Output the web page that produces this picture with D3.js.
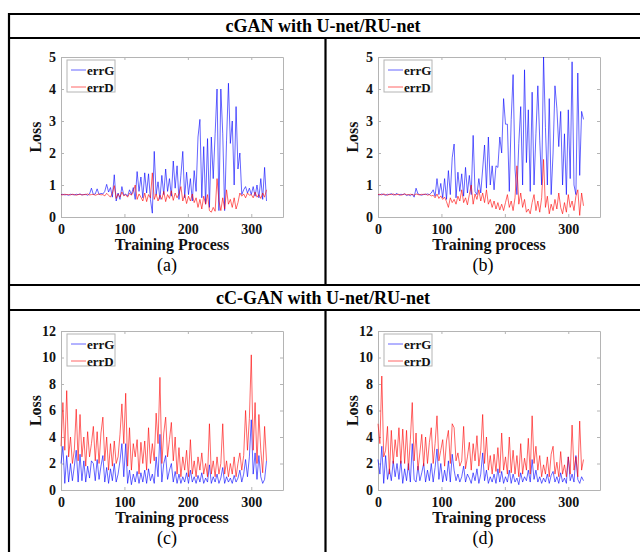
<!DOCTYPE html>
<html lang="en">
<head>
<meta charset="UTF-8">
<title>GAN loss curves</title>
<script src="https://cdn.jsdelivr.net/npm/d3@7"></script>
<style>
  body { margin: 0; background: #fff; }
  text { font-family: "Liberation Serif", "Times New Roman", serif; }
</style>
</head>
<body>
<svg id="canvas" width="640" height="552"></svg>
<script>
// losses sampled every 3 training steps (0, 3, 6, ... 324)
const step = 3;

const aG = [0.70,0.71,0.69,0.70,0.68,0.71,0.70,0.69,0.71,0.70,
  0.72,0.69,0.70,0.71,0.68,0.72,0.90,0.70,0.72,0.88,
  0.70,0.74,0.72,0.80,1.02,0.78,0.92,0.62,1.32,0.50,
  0.75,0.55,0.95,0.68,0.72,0.65,0.85,0.70,0.92,0.55,
  1.42,0.80,1.25,0.60,1.38,0.75,1.35,0.55,0.12,2.05,
  0.70,1.10,0.55,1.30,0.70,1.50,0.80,1.20,0.65,1.75,
  0.90,1.60,0.55,1.30,2.05,0.60,1.40,0.70,1.20,0.50,
  1.45,0.80,2.50,3.05,0.60,2.20,0.40,2.45,0.30,2.50,
  1.20,2.60,4.00,0.20,4.00,2.60,0.20,2.40,4.18,2.30,
  3.00,1.00,3.45,1.50,2.00,0.70,0.85,0.95,0.75,0.90,
  0.70,0.95,0.65,1.00,0.60,1.20,0.55,1.55,0.50];
const aD = [0.70,0.69,0.71,0.70,0.70,0.69,0.71,0.70,0.68,0.70,
  0.71,0.69,0.70,0.70,0.72,0.69,0.70,0.71,0.68,0.70,
  0.72,0.69,0.70,0.66,0.74,0.68,0.62,0.75,0.98,0.58,
  0.72,0.62,0.78,0.66,0.70,0.62,0.74,0.68,0.80,1.00,
  0.55,0.72,0.62,0.50,0.75,0.48,0.70,0.60,1.38,0.55,
  0.72,0.50,0.68,0.55,0.80,0.48,0.70,0.58,0.82,0.52,
  0.75,0.60,0.72,0.95,0.50,0.70,0.42,0.65,0.50,0.72,
  0.45,0.60,0.30,0.55,0.25,0.65,0.40,0.70,0.20,0.15,
  0.30,0.18,1.20,0.50,0.20,0.60,0.25,0.85,0.40,0.55,
  0.30,0.60,0.25,0.45,0.75,0.65,0.72,0.60,0.75,0.68,
  0.70,0.60,0.78,0.62,0.70,0.58,0.75,0.62,0.85];

const bG = [0.70,0.69,0.72,0.70,0.68,0.71,0.70,0.73,0.69,0.70,
  0.74,0.68,0.71,0.70,0.72,0.67,0.70,0.66,0.72,0.62,
  0.90,0.72,0.70,0.68,0.71,0.70,0.72,0.70,0.75,0.85,
  0.65,1.20,0.70,1.05,0.60,1.20,0.55,1.45,0.70,1.85,
  2.28,0.60,1.40,0.80,1.35,0.65,1.55,0.75,1.30,0.70,
  2.55,0.80,0.70,1.20,0.75,1.50,2.25,0.90,2.50,1.00,
  1.60,0.85,1.60,1.55,2.50,2.00,3.70,2.90,2.90,0.80,
  3.05,4.45,1.50,0.70,2.30,3.45,1.00,4.60,1.70,3.35,
  0.80,3.90,1.00,2.60,4.10,2.40,1.00,5.00,2.80,1.00,
  3.70,0.70,2.00,4.10,3.40,2.20,3.30,1.00,2.60,0.70,
  3.35,1.20,4.85,1.00,0.70,4.50,1.30,3.30,3.05];
const bD = [0.70,0.71,0.69,0.72,0.70,0.68,0.71,0.70,0.72,0.69,
  0.70,0.71,0.68,0.70,0.72,0.70,0.69,0.71,0.70,0.68,
  0.72,0.70,0.69,0.71,0.70,0.72,0.68,0.70,0.66,0.68,
  0.60,0.72,0.58,0.66,0.55,0.62,0.48,0.30,0.60,0.45,
  0.55,0.40,0.65,0.50,0.85,0.45,0.60,0.38,0.70,1.00,
  0.40,0.72,0.55,0.85,0.50,0.75,0.45,0.85,0.40,0.55,
  0.30,0.50,0.25,0.45,0.22,0.40,0.20,0.45,0.70,0.30,
  0.50,0.20,0.60,1.60,0.40,0.75,0.30,0.55,0.15,0.25,
  0.10,0.45,0.70,0.20,0.50,0.15,0.60,1.80,0.30,0.65,
  0.10,0.40,0.20,0.55,0.25,0.75,0.30,0.10,0.45,0.15,
  0.70,0.30,0.50,0.20,0.65,0.85,0.05,0.75,0.35];

const cG = [2.0,3.3,0.5,2.6,0.6,2.0,0.7,1.8,3.0,0.6,
  2.7,0.7,2.2,0.6,1.8,0.9,2.2,2.0,0.7,2.3,
  0.8,1.8,2.6,0.6,1.7,0.5,1.6,0.7,2.0,0.6,
  1.2,2.2,3.5,1.0,3.5,0.5,1.5,0.4,1.2,0.6,
  1.4,0.5,1.3,0.6,1.5,0.5,1.6,0.7,1.2,0.5,
  2.5,1.0,4.2,0.6,2.0,2.6,0.8,1.5,2.0,0.6,
  1.4,0.5,1.2,0.5,1.0,0.6,1.3,0.5,1.5,0.6,
  1.0,0.5,1.1,0.6,1.3,0.5,0.9,0.6,1.9,0.5,
  1.0,0.6,1.2,0.5,0.9,1.7,0.5,1.0,0.6,0.9,
  0.5,1.1,0.6,0.9,1.5,0.6,1.2,2.3,1.0,2.5,
  5.3,1.2,2.8,0.8,2.6,1.0,0.5,0.8,2.2];
const cD = [3.3,6.6,3.0,7.5,2.5,4.0,2.0,3.0,6.1,2.2,
  5.7,2.5,4.0,1.8,4.4,2.5,3.5,4.8,2.2,4.4,
  2.0,4.3,5.5,2.2,4.0,1.5,3.5,1.8,3.7,2.0,
  2.5,4.2,6.5,3.5,7.3,1.8,4.7,1.5,3.5,2.5,
  3.8,1.2,3.6,2.0,3.7,1.5,4.7,2.0,3.5,2.2,
  5.8,3.5,8.5,2.0,4.3,5.5,2.5,3.8,5.1,2.2,
  4.0,1.2,3.2,1.0,2.5,1.5,3.0,1.0,3.8,1.2,
  2.2,1.0,2.5,1.5,2.8,1.2,2.0,1.0,5.0,1.2,
  2.2,1.0,2.5,1.2,2.0,5.0,1.2,2.2,1.0,2.0,
  1.2,2.5,1.0,2.0,2.8,1.5,2.6,6.0,3.0,5.4,
  10.2,3.0,6.6,2.0,5.7,3.0,1.3,4.8,2.2];

const dG = [2.3,1.2,3.3,0.5,2.6,0.8,1.6,0.7,2.2,1.0,
  2.0,0.8,2.2,0.5,1.6,0.7,2.0,0.6,3.5,0.8,
  0.6,1.8,0.7,1.3,2.0,0.6,1.5,0.7,2.0,0.6,
  1.7,3.1,0.8,2.0,0.6,1.5,0.7,2.2,0.6,2.7,
  1.5,0.7,1.2,0.6,1.0,1.8,0.6,1.2,0.9,0.5,
  1.3,0.7,1.6,0.5,1.2,2.8,0.7,1.5,0.5,1.0,
  0.6,1.2,0.5,1.6,0.6,1.4,0.5,1.0,0.6,1.5,
  0.5,1.2,0.6,0.9,0.4,1.3,0.6,1.0,0.7,1.5,
  0.6,2.3,0.8,1.5,0.6,1.0,0.5,0.9,0.6,1.2,
  0.5,1.1,1.4,0.6,1.0,0.5,1.3,0.6,0.9,0.5,
  2.5,0.7,1.2,0.6,2.6,0.8,0.5,1.0,0.7];
const dD = [5.0,3.5,8.6,2.5,3.0,4.8,1.2,4.5,2.0,3.8,
  2.5,4.7,2.0,4.6,2.0,4.5,1.5,3.8,6.6,2.2,
  4.3,1.5,2.8,4.2,1.8,4.0,2.0,3.6,4.7,2.0,
  3.5,5.6,2.2,3.0,3.8,1.8,3.7,4.5,2.0,5.0,
  4.7,2.2,2.8,1.8,2.2,4.8,1.6,2.5,3.6,1.5,
  3.5,2.2,4.1,1.8,3.0,5.7,2.0,4.0,1.5,2.6,
  1.2,2.7,1.4,3.2,1.3,4.3,1.5,2.5,1.2,4.0,
  1.3,3.0,1.2,2.6,1.0,3.5,1.2,2.4,1.5,3.9,
  1.2,5.6,2.0,3.3,1.5,2.6,1.0,1.9,1.2,2.5,
  1.0,2.7,3.3,1.2,2.1,1.0,2.9,1.2,1.9,1.0,
  2.5,1.2,4.9,1.5,2.5,1.0,5.2,1.5,2.3];

const xTicks = [0, 100, 200, 300];
const yTicksTop = [0, 1, 2, 3, 4, 5];
const yTicksBottom = [0, 2, 4, 6, 8, 10, 12];
const seriesNames = ["errG", "errD"];
const headers = ["cGAN with U-net/RU-net", "cC-GAN with U-net/RU-net"];

const colors = { errG: "#0000ff", errD: "#ff0000" };

const panels = [
  { G: aG, D: aD, yMax: 5, yTicks: yTicksTop, xLabel: "Training Process", tag: "(a)", left: 61, top: 57, h: 160, cell: 167 },
  { G: bG, D: bD, yMax: 5, yTicks: yTicksTop, xLabel: "Training process", tag: "(b)", left: 378, top: 57, h: 160, cell: 483 },
  { G: cG, D: cD, yMax: 12, yTicks: yTicksBottom, xLabel: "Training process", tag: "(c)", left: 61, top: 331, h: 159, cell: 167 },
  { G: dG, D: dD, yMax: 12, yTicks: yTicksBottom, xLabel: "Training process", tag: "(d)", left: 378, top: 331, h: 159, cell: 483 }
];
const W = 222;

const svg = d3.select("#canvas");

// table frame
const frame = svg.append("g").attr("stroke", "#000").attr("stroke-width", 2.2);
[14, 38, 285, 310].forEach(y => {
  frame.append("line").attr("x1", 8).attr("x2", 640).attr("y1", y).attr("y2", y);
});
frame.append("line").attr("x1", 9).attr("x2", 9).attr("y1", 13).attr("y2", 552);
frame.append("line").attr("x1", 325.5).attr("x2", 325.5).attr("y1", 38).attr("y2", 285);
frame.append("line").attr("x1", 325.5).attr("x2", 325.5).attr("y1", 310).attr("y2", 552);

svg.selectAll("text.header")
  .data(headers)
  .join("text")
  .attr("class", "header")
  .attr("x", 323)
  .attr("y", (d, i) => i === 0 ? 32 : 304)
  .attr("text-anchor", "middle")
  .attr("font-size", 18)
  .attr("font-weight", "bold")
  .text(d => d);

function drawPanel(p) {
  const g = svg.append("g").attr("transform", `translate(${p.left},${p.top})`);
  const x = d3.scaleLinear().domain([0, 350]).range([0, W]);
  const y = d3.scaleLinear().domain([0, p.yMax]).range([p.h, 0]);
  const fmt = d3.format("d");

  const styleAxis = sel => {
    sel.selectAll(".domain").attr("stroke", "#b4b4b4");
    sel.selectAll(".tick line").attr("stroke", "#b4b4b4");
    sel.selectAll("text")
      .attr("font-family", "'Liberation Serif', serif")
      .attr("font-size", 14)
      .attr("font-weight", "bold")
      .attr("fill", "#111");
  };

  g.append("g").attr("transform", `translate(0,${p.h})`)
    .call(d3.axisBottom(x).tickValues(xTicks).tickFormat(fmt).tickSizeInner(-3).tickSizeOuter(0).tickPadding(7))
    .call(styleAxis);
  g.append("g")
    .call(d3.axisTop(x).tickValues(xTicks).tickSizeInner(-3).tickSizeOuter(0).tickFormat(""))
    .call(styleAxis);
  g.append("g")
    .call(d3.axisLeft(y).tickValues(p.yTicks).tickFormat(fmt).tickSizeInner(-3).tickSizeOuter(0).tickPadding(5))
    .call(styleAxis);
  g.append("g").attr("transform", `translate(${W},0)`)
    .call(d3.axisRight(y).tickValues(p.yTicks).tickSizeInner(-3).tickSizeOuter(0).tickFormat(""))
    .call(styleAxis);

  const line = d3.line().x((d, i) => x(i * step)).y(d => y(d));
  [["errG", p.G], ["errD", p.D]].forEach(([name, vals]) => {
    g.append("path")
      .datum(vals)
      .attr("fill", "none")
      .attr("stroke", colors[name])
      .attr("stroke-opacity", 0.6)
      .attr("stroke-width", 1)
      .attr("d", line);
  });

  // legend
  const lg = g.append("g").attr("transform", "translate(6,3)");
  lg.append("rect").attr("width", 48).attr("height", 32)
    .attr("fill", "#fff").attr("stroke", "#b4b4b4").attr("stroke-width", 1);
  seriesNames.forEach((name, i) => {
    const yy = 10 + i * 17;
    lg.append("line").attr("x1", 4).attr("x2", 19).attr("y1", yy).attr("y2", yy)
      .attr("stroke", colors[name]).attr("stroke-opacity", 0.6);
    lg.append("text").attr("x", 20).attr("y", yy + 4.5)
      .attr("font-size", 13).attr("font-weight", "bold").attr("fill", "#111")
      .text(name);
  });

  // axis titles
  g.append("text")
    .attr("transform", `translate(-20,${p.h / 2}) rotate(-90)`)
    .attr("text-anchor", "middle")
    .attr("font-size", 16).attr("font-weight", "bold").attr("fill", "#111")
    .text("Loss");
  g.append("text")
    .attr("x", W / 2).attr("y", p.h + 33)
    .attr("text-anchor", "middle")
    .attr("font-size", 16).attr("font-weight", "bold").attr("fill", "#111")
    .text(p.xLabel);

  svg.append("text")
    .attr("x", p.cell).attr("y", p.top + p.h + 54)
    .attr("text-anchor", "middle")
    .attr("font-size", 18).attr("fill", "#000")
    .text(p.tag);
}

panels.forEach(drawPanel);
</script>
</body>
</html>
